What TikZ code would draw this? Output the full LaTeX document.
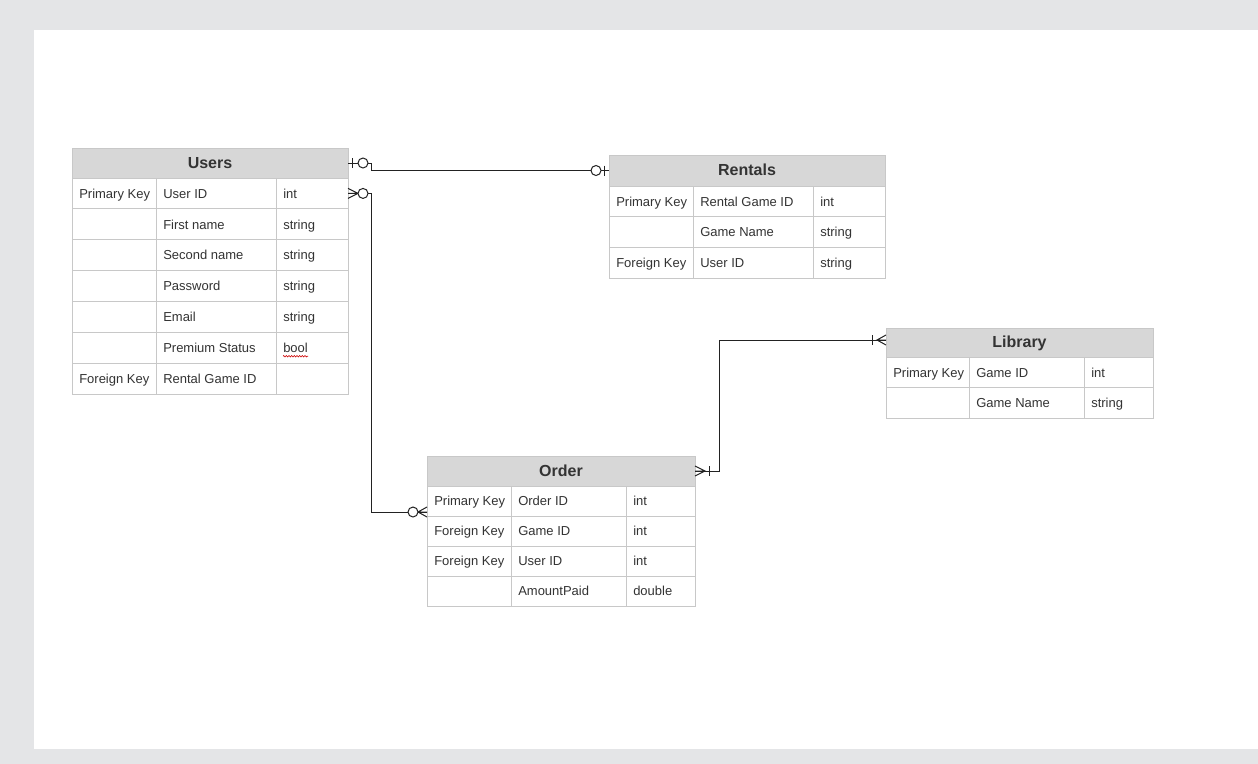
\documentclass[tikz,border=0pt]{standalone}
\usepackage{fontspec}
\setmainfont{Liberation Sans}
\usetikzlibrary{calc,decorations.pathmorphing}
\definecolor{bggray}{HTML}{E4E5E7}
\definecolor{hdrfill}{HTML}{D7D7D7}
\definecolor{gridc}{HTML}{C8C8C8}
\definecolor{txt}{HTML}{333333}
\definecolor{linec}{HTML}{222222}
\tikzset{
  hdr/.style={draw=gridc, fill=hdrfill, line width=0.75pt, inner sep=0pt, outer sep=0pt,
    text=txt, text height=9pt, text depth=1.5pt, font=\fontsize{12}{14}\selectfont\bfseries},
  cellbox/.style={draw=gridc, fill=white, line width=0.75pt, inner sep=0pt, outer sep=0pt},
  celltxt/.style={inner sep=0pt, anchor=west, text height=8.2pt, text depth=1pt, text=txt, font=\fontsize{9.75}{12}\selectfont},
  conn/.style={draw=linec, line width=0.75pt},
}
\newcommand{\ercell}[6]{%
  \node[cellbox, minimum width={(#4-#2)*0.75pt}, minimum height={(#5-#3)*0.75pt}] (#1) at ({(#2+#4)/2},{(#3+#5)/2}) {};
  \node[celltxt] (#1t) at ([xshift=5.25pt]#1.west) {#6};}
\newcommand{\erhead}[6]{% name x0 x3 ytop yhead title
  \node[hdr, minimum width={(#3-#2)*0.75pt}, minimum height={(#5-#4)*0.75pt}] (#1) at ({(#2+#3)/2},{(#4+#5)/2}) {#6};}
\newcommand{\errows}[8]{% name x0 x1 x2 x3 ystart rowh list
  \foreach [count=\i] \a/\b/\c in {#8} {
    \pgfmathsetmacro\ya{#6+(\i-1)*#7}
    \pgfmathsetmacro\yb{#6+\i*#7}
    \ercell{#1-\i-a}{#2}{\ya}{#3}{\yb}{\a}
    \ercell{#1-\i-b}{#3}{\ya}{#4}{\yb}{\b}
    \ercell{#1-\i-c}{#4}{\ya}{#5}{\yb}{\c}
  }}
\newcommand{\sbar}[2]{\draw[conn] ($(#1)+(#2,-5)$) -- ($(#1)+(#2,5)$);}
\newcommand{\scirc}[2]{\draw[conn, fill=white] ($(#1)+(#2,0)$) circle (3.75pt);}
\newcommand{\scrow}[2]{\draw[conn] ($(#1)+(0,-5)$) -- ($(#1)+(#2,0)$) -- ($(#1)+(0,5)$) ($(#1)$) -- ($(#1)+(#2,0)$);}
\begin{document}
\begin{tikzpicture}[x=0.75pt,y=-0.75pt]
\useasboundingbox (0,0) rectangle (1258,764);
\fill[bggray] (0,0) rectangle (1258,764);
\fill[white] (34,30) rectangle (1258,749);

% Users
\erhead{users}{72}{348}{148}{178}{Users}
\errows{u}{72}{156}{276}{348}{178}{30.857}{Primary Key/User ID/int, /First name/string, /Second name/string, /Password/string, /Email/string, /Premium Status/bool, Foreign Key/Rental Game ID/ }
% Rentals
\erhead{rentals}{609}{885}{155}{186}{Rentals}
\errows{r}{609}{693}{813}{885}{186}{30.667}{Primary Key/Rental Game ID/int, /Game Name/string, Foreign Key/User ID/string}
% Library
\erhead{library}{886}{1153}{328}{357}{Library}
\errows{l}{886}{969}{1084}{1153}{357}{30.5}{Primary Key/Game ID/int, /Game Name/string}
% Order
\erhead{order}{427}{695}{456}{486}{Order}
\errows{o}{427}{511}{626}{695}{486}{30}{Primary Key/Order ID/int, Foreign Key/Game ID/int, Foreign Key/User ID/int, /AmountPaid/double}

% spell-check squiggle under "bool"
\draw[red!80!black, line width=0.4pt, decorate, decoration={zigzag, amplitude=0.6pt, segment length=2pt}]
  ([yshift=-1.6pt]u-6-ct.south west) -- ([yshift=-1.6pt]u-6-ct.south east);

% connection points
\coordinate (ue) at (users.east);
\coordinate (rw) at (rentals.west);
\coordinate (u1e) at (u-1-c.east);
\coordinate (ow) at ($(o-1-a.west)+(0,11)$);
\coordinate (oe) at (order.east);
\coordinate (lw) at ($(library.west)+(0,-2.5)$);

% Users -- Rentals (zero or one to zero or one)
\draw[conn] (ue) -- ++(23,0) |- (rw);
\sbar{ue}{4}
\scirc{ue}{15}
\scirc{rw}{-13}
\sbar{rw}{-5}

% Users -- Order (zero or many)
\draw[conn] (u1e) -- ++(23,0) |- (ow);
\scrow{u1e}{10}
\scirc{u1e}{15}
\scrow{ow}{-9}
\scirc{ow}{-14}

% Order -- Library (one or many)
\draw[conn] (oe) -- ++(24,0) |- (lw);
\scrow{oe}{10}
\sbar{oe}{14}
\scrow{lw}{-9}
\sbar{lw}{-14}
\end{tikzpicture}
\end{document}
